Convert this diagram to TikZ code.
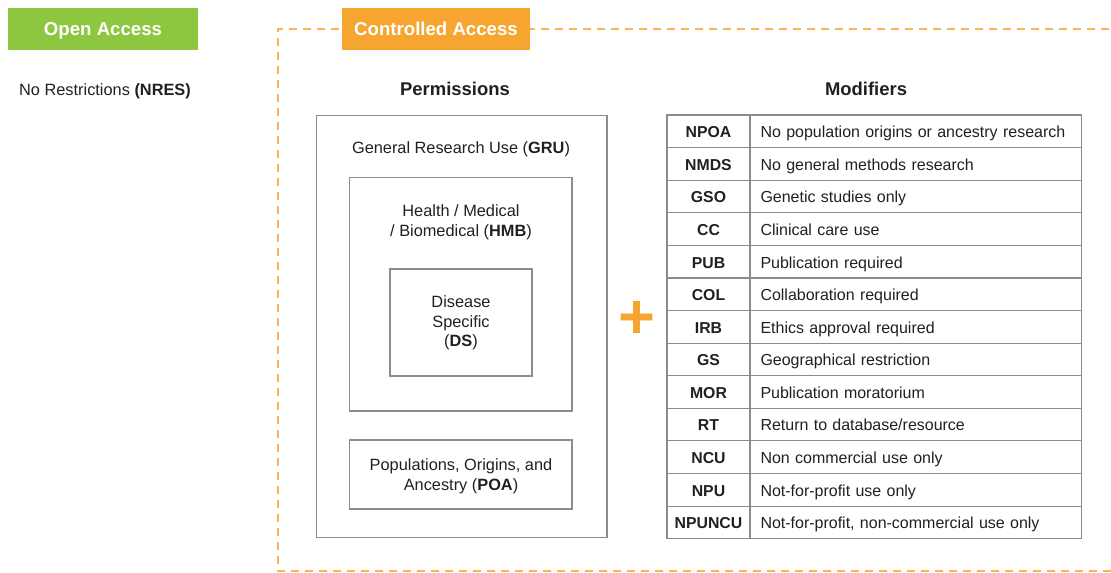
\documentclass[tikz,border=0pt]{standalone}
\usepackage{fontspec}
\setmainfont{Liberation Sans}
\usetikzlibrary{positioning}

\definecolor{oagreen}{HTML}{8DC63F}
\definecolor{caorange}{HTML}{F7A531}
\definecolor{dashorange}{HTML}{FBB550}
\definecolor{boxgray}{HTML}{8C8C8C}
\definecolor{txtdark}{HTML}{231F20}

\tikzset{
  every node/.style={text=txtdark, font=\fontsize{9.3}{11.2}\selectfont, inner sep=0pt, outer sep=0pt},
  banner/.style={fill=#1, text=white, font=\fontsize{10.6}{12}\selectfont\bfseries, minimum height=0.84cm,
    text height=0.8em, text depth=0.08em},
  heading/.style={font=\fontsize{10.5}{12}\selectfont\bfseries},
  permbox/.style={draw=boxgray, line width=0.6pt},
  codecell/.style={draw=boxgray, line width=0.6pt, minimum width=1.66cm, minimum height=0.652cm,
    text height=0.8em, text depth=0.08em, font=\fontsize{9}{11}\selectfont\bfseries},
  desccell/.style={draw=boxgray, line width=0.6pt, minimum width=6.64cm, minimum height=0.652cm,
    text width=6.22cm, inner xsep=0.21cm, text height=0.8em, text depth=0.08em, align=left,
    font=\fontsize{9.1}{11}\selectfont},
}

\begin{document}
\begin{tikzpicture}[x=0.02cm, y=-0.02cm]
    \useasboundingbox (0,0) rectangle (1111,572);

    % dashed frame of the controlled part
    \coordinate (frame-tl) at (278,29);
    \coordinate (frame-bl) at (278,571);
    \coordinate (frame-tr) at (1111,29);
    \coordinate (frame-br) at (1111,571);
    \draw[dashorange, line width=0.8pt, dash pattern=on 0.17cm off 0.11cm]
        (frame-br) -- (frame-bl) -- (frame-tl) -- (frame-tr);

    % banners
    \node[banner=oagreen, minimum width=3.8cm] (openacc) at (103,29) {Open Access};
    \node[banner=caorange, minimum width=3.76cm] (ctrlacc) at (436,29) {Controlled Access};

    \node (nres) at (105,91) {No Restrictions \textbf{(NRES)}};

    % permissions
    \node[heading] (permhead) at (455,89) {Permissions};
    \node[permbox, minimum width=5.82cm, minimum height=8.46cm] (gru) at (461.5,326.5) {};
    \node (gru-t) at (461,149) {General Research Use (\textbf{GRU})};
    \node[permbox, minimum width=4.46cm, minimum height=4.68cm] (hmb) at (460.5,294) {};
    \node[align=center] (hmb-t) at (461,222) {Health / Medical\\/ Biomedical (\textbf{HMB})};
    \node[permbox, minimum width=2.84cm, minimum height=2.14cm] (ds) at (461,322.5) {};
    \node[align=center] (ds-t) at (461,323) {Disease\\Specific\\(\textbf{DS})};
    \node[permbox, minimum width=4.46cm, minimum height=1.38cm] (poa) at (460.5,474.5) {};
    \node[align=center] (poa-t) at (461,476) {Populations, Origins, and\\Ancestry (\textbf{POA})};

    \node[text=caorange, font=\fontsize{36}{36}\selectfont\bfseries] (plus) at (637,320) {+};

    % modifiers
    \node[heading] (modhead) at (866,89) {Modifiers};
    \node[codecell] (npoa) at (708.5,131.3) {NPOA};
    \node[desccell, right=0pt of npoa] (npoa-d) {No population origins or ancestry research};
    \node[codecell, below=0pt of npoa] (nmds) {NMDS};
    \node[desccell, right=0pt of nmds] (nmds-d) {No general methods research};
    \node[codecell, below=0pt of nmds] (gso) {GSO};
    \node[desccell, right=0pt of gso] (gso-d) {Genetic studies only};
    \node[codecell, below=0pt of gso] (cc) {CC};
    \node[desccell, right=0pt of cc] (cc-d) {Clinical care use};
    \node[codecell, below=0pt of cc] (pub) {PUB};
    \node[desccell, right=0pt of pub] (pub-d) {Publication required};
    \node[codecell, below=0pt of pub] (col) {COL};
    \node[desccell, right=0pt of col] (col-d) {Collaboration required};
    \node[codecell, below=0pt of col] (irb) {IRB};
    \node[desccell, right=0pt of irb] (irb-d) {Ethics approval required};
    \node[codecell, below=0pt of irb] (gs) {GS};
    \node[desccell, right=0pt of gs] (gs-d) {Geographical restriction};
    \node[codecell, below=0pt of gs] (mor) {MOR};
    \node[desccell, right=0pt of mor] (mor-d) {Publication moratorium};
    \node[codecell, below=0pt of mor] (rt) {RT};
    \node[desccell, right=0pt of rt] (rt-d) {Return to database/resource};
    \node[codecell, below=0pt of rt] (ncu) {NCU};
    \node[desccell, right=0pt of ncu] (ncu-d) {Non commercial use only};
    \node[codecell, below=0pt of ncu] (npu) {NPU};
    \node[desccell, right=0pt of npu] (npu-d) {Not-for-profit use only};
    \node[codecell, below=0pt of npu] (npuncu) {NPUNCU};
    \node[desccell, right=0pt of npuncu] (npuncu-d) {Not-for-profit, non-commercial use only};

\end{tikzpicture}
\end{document}
